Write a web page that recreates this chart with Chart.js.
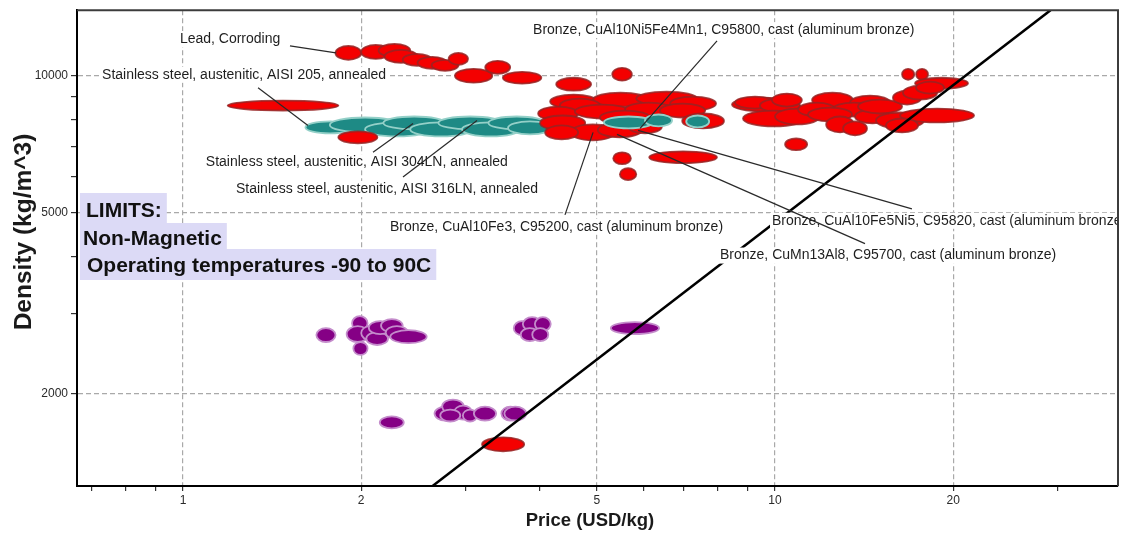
<!DOCTYPE html>
<html>
<head>
<meta charset="utf-8">
<script src="https://cdn.jsdelivr.net/npm/chart.js@4/dist/chart.umd.min.js"></script>
<style>
  html, body { margin: 0; padding: 0; background: #fff; }
  canvas { display: block; }
</style>
</head>
<body>
<canvas id="chart" width="1127" height="537"></canvas>
<script>
// Each material record: [priceLow, priceHigh, densityLow, densityHigh]  (USD/kg, kg/m^3)
const redRanges = [
  [1.81, 2.00, 10838, 11630],
  [2.00, 2.24, 10890, 11687],
  [2.14, 2.42, 11004, 11746],
  [2.19, 2.49, 10676, 11396],
  [2.35, 2.63, 10515, 11170],
  [2.49, 2.79, 10358, 11004],
  [2.63, 2.92, 10254, 10838],
  [2.81, 3.03, 10568, 11225],
  [2.88, 3.33, 9654, 10358],
  [3.24, 3.57, 10101, 10784],
  [3.47, 4.03, 9606, 10203],
  [4.27, 4.89, 9273, 9900],
  [5.31, 5.73, 9752, 10411],
  [1.19, 1.83, 8386, 8818],
  [1.83, 2.13, 7104, 7547],
  [4.17, 5.01, 8470, 9090],
  [4.93, 6.10, 8557, 9181],
  [5.83, 7.38, 8600, 9227],
  [6.65, 7.95, 8386, 8999],
  [4.33, 5.06, 8303, 8909],
  [3.98, 4.65, 7974, 8557],
  [4.59, 5.69, 8055, 8643],
  [5.58, 6.70, 8137, 8730],
  [6.39, 7.62, 8096, 8687],
  [5.06, 6.15, 7817, 8386],
  [4.01, 4.78, 7585, 8178],
  [4.51, 5.37, 7212, 7817],
  [5.02, 5.96, 7320, 7896],
  [5.65, 6.44, 7471, 8015],
  [6.97, 8.20, 7662, 8261],
  [4.09, 4.65, 7248, 7778],
  [5.33, 5.71, 6393, 6789],
  [5.47, 5.83, 5898, 6264],
  [6.13, 7.98, 6425, 6823],
  [16.39, 17.18, 9801, 10358],
  [17.31, 18.13, 9801, 10358],
  [17.24, 21.18, 9367, 9900],
  [8.46, 10.81, 8344, 8954],
  [8.56, 10.0, 8470, 8999],
  [9.43, 11.02, 8303, 8909],
  [9.88, 11.10, 8557, 9136],
  [11.55, 13.54, 8513, 9181],
  [13.39, 15.64, 8428, 9045],
  [12.49, 14.81, 8137, 8730],
  [8.83, 11.24, 7739, 8386],
  [10.0, 11.91, 7817, 8470],
  [10.94, 12.63, 8137, 8730],
  [11.37, 13.49, 7935, 8513],
  [12.20, 13.59, 7508, 8137],
  [13.03, 14.30, 7396, 7935],
  [13.65, 15.64, 7856, 8428],
  [13.81, 16.39, 8261, 8864],
  [14.81, 17.85, 7662, 8303],
  [15.82, 17.65, 8643, 9273],
  [16.45, 18.78, 8864, 9510],
  [17.31, 19.30, 9136, 9703],
  [16.26, 21.69, 7896, 8470],
  [15.40, 17.44, 7508, 8055],
  [10.40, 11.33, 6861, 7284],
  [3.20, 3.77, 1495, 1604]
];

const tealBandRanges = [
  [1.61, 1.95, 7471, 7935],
  [1.77, 2.33, 7508, 8096],
  [2.03, 2.61, 7359, 7896],
  [2.18, 2.77, 7624, 8137],
  [2.42, 3.08, 7359, 7896],
  [2.70, 3.46, 7624, 8137],
  [2.96, 3.71, 7359, 7896],
  [3.28, 4.09, 7624, 8137],
  [3.54, 4.20, 7434, 7935]
];

const tealBronzeRanges = [
  [5.14, 6.22, 7662, 8137],
  [6.03, 6.70, 7739, 8219],
  [7.08, 7.74, 7700, 8178]
];

const purpleRanges = [
  [1.68, 1.81, 2599, 2788],
  [1.93, 2.05, 2759, 2962],
  [1.89, 2.06, 2599, 2817],
  [1.94, 2.05, 2434, 2599],
  [2.00, 2.14, 2625, 2817],
  [2.04, 2.22, 2560, 2733],
  [2.06, 2.25, 2705, 2888],
  [2.16, 2.35, 2733, 2918],
  [2.20, 2.40, 2637, 2817],
  [2.24, 2.58, 2584, 2759],
  [2.15, 2.36, 1679, 1783],
  [3.62, 3.86, 2691, 2888],
  [3.75, 4.03, 2747, 2947],
  [3.93, 4.18, 2747, 2947],
  [3.72, 3.99, 2610, 2788],
  [3.89, 4.14, 2610, 2788],
  [5.28, 6.37, 2705, 2873],
  [2.66, 2.89, 1747, 1874],
  [2.74, 2.98, 1810, 1942],
  [2.87, 3.08, 1755, 1884],
  [2.97, 3.14, 1738, 1846],
  [2.72, 2.94, 1738, 1846],
  [3.10, 3.38, 1747, 1874],
  [3.45, 3.70, 1747, 1874],
  [3.49, 3.80, 1747, 1874]
];

// Selection guideline: density proportional to price
const guideLine = [{ x: 2.64, y: 1254 }, { x: 29.2, y: 13935 }];

// Axis ticks
const xTickValues = [0.7, 0.8, 0.9, 1, 2, 3, 4, 5, 6, 7, 8, 9, 10, 20, 30];
const xTickLabels = [1, 2, 5, 10, 20];
const yTickValues = [2000, 3000, 4000, 5000, 6000, 7000, 8000, 9000, 10000];
const yTickLabels = [2000, 5000, 10000];

const xTitle = 'Price (USD/kg)';
const yTitle = 'Density (kg/m^3)';

// Named records: label anchor and leader line, in (price, density)
const callouts = [
  { text: 'Lead, Corroding', at: [0.988, 12045], from: [1.516, 11630], to: [1.813, 11225] },
  { text: 'Stainless steel, austenitic, AISI 205, annealed', at: [0.730, 10050], from: [1.339, 9414], to: [1.626, 7778] },
  { text: 'Stainless steel, austenitic, AISI 304LN, annealed', at: [1.093, 6457], from: [2.094, 6789], to: [2.447, 7856] },
  { text: 'Stainless steel, austenitic, AISI 316LN, annealed', at: [1.229, 5638], from: [2.353, 5988], to: [3.138, 7974] },
  { text: 'Bronze, CuAl10Ni5Fe4Mn1, C95800, cast (aluminum bronze)', at: [3.902, 12601], from: [7.981, 11925], to: [5.916, 7662] },
  { text: 'Bronze, CuAl10Fe3, C95200, cast (aluminum bronze)', at: [2.237, 4657], from: [4.418, 4947], to: [4.928, 7508] },
  { text: 'Bronze, CuAl10Fe5Ni5, C95820, cast (aluminum bronze)', at: [9.884, 4800], from: [17.03, 5098], to: [5.870, 7585] },
  { text: 'Bronze, CuMn13Al8, C95700, cast (aluminum bronze)', at: [8.074, 4025], from: [14.19, 4276], to: [5.409, 7434] }
];

const limitsLines = ['LIMITS:', 'Non-Magnetic', 'Operating temperatures -90 to 90C'];

const FONT = "'Liberation Sans', Arial, Helvetica, sans-serif";

const ellipseGroups = [
  { ranges: tealBandRanges, fill: '#1e8a85', stroke: '#94d0c8' },
  { ranges: redRanges, fill: '#f40000', stroke: 'rgba(150,35,35,0.85)' },
  { ranges: tealBronzeRanges, fill: '#1e8a85', stroke: '#94d0c8' },
  { ranges: purpleRanges, fill: '#850085', stroke: '#c48ccb' }
];

// Range ellipses: each record spans its price and density range on the log scales
const rangeEllipses = {
  id: 'rangeEllipses',
  beforeDatasetsDraw(chart) {
    const { ctx, chartArea: a, scales: { x, y } } = chart;
    ctx.save();
    ctx.beginPath();
    ctx.rect(a.left, a.top, a.right - a.left, a.bottom - a.top);
    ctx.clip();
    for (const g of ellipseGroups) {
      for (const [pLo, pHi, dLo, dHi] of g.ranges) {
        const x1 = x.getPixelForValue(pLo), x2 = x.getPixelForValue(pHi);
        const y1 = y.getPixelForValue(dHi), y2 = y.getPixelForValue(dLo);
        ctx.beginPath();
        ctx.ellipse((x1 + x2) / 2, (y1 + y2) / 2, Math.abs(x2 - x1) / 2, Math.abs(y2 - y1) / 2, 0, 0, Math.PI * 2);
        ctx.fillStyle = g.fill;
        ctx.fill();
        ctx.lineWidth = 1.8;
        ctx.strokeStyle = g.stroke;
        ctx.stroke();
      }
    }
    ctx.restore();
  }
};

// Callout labels with white backing and leader lines, plus the limits note and frame
const overlays = {
  id: 'overlays',
  afterDatasetsDraw(chart) {
    const { ctx, chartArea: a, scales: { x, y } } = chart;
    ctx.save();
    ctx.beginPath();
    ctx.rect(a.left, a.top, a.right - a.left, a.bottom - a.top);
    ctx.clip();

    ctx.font = '14px ' + FONT;
    ctx.textBaseline = 'middle';
    ctx.textAlign = 'left';
    for (const c of callouts) {
      const tx = x.getPixelForValue(c.at[0]);
      const ty = y.getPixelForValue(c.at[1]);
      const w = ctx.measureText(c.text).width;
      ctx.fillStyle = '#ffffff';
      ctx.fillRect(tx - 2, ty - 8, w + 4, 16);
      ctx.fillStyle = '#1e1e1e';
      ctx.fillText(c.text, tx, ty);
    }
    ctx.strokeStyle = '#2a2a2a';
    ctx.lineWidth = 1.2;
    for (const c of callouts) {
      ctx.beginPath();
      ctx.moveTo(x.getPixelForValue(c.from[0]), y.getPixelForValue(c.from[1]));
      ctx.lineTo(x.getPixelForValue(c.to[0]), y.getPixelForValue(c.to[1]));
      ctx.stroke();
    }

    // limits note
    ctx.font = 'bold 21px ' + FONT;
    ctx.textBaseline = 'alphabetic';
    const rows = [
      { top: 193, bottom: 223, tx: 86, base: 217 },
      { top: 223, bottom: 249, tx: 83, base: 245 },
      { top: 249, bottom: 280, tx: 87, base: 272 }
    ];
    rows.forEach((r, i) => {
      const w = ctx.measureText(limitsLines[i]).width;
      ctx.fillStyle = '#dcdaf6';
      ctx.fillRect(a.left + 3, r.top, r.tx + w + 5 - (a.left + 3), r.bottom - r.top);
    });
    rows.forEach((r, i) => {
      ctx.fillStyle = '#111111';
      ctx.fillText(limitsLines[i], r.tx, r.base);
    });
    ctx.restore();

    // frame on top and right
    ctx.save();
    ctx.strokeStyle = '#3c3c3c';
    ctx.lineWidth = 2;
    ctx.beginPath();
    ctx.moveTo(a.left, a.top);
    ctx.lineTo(a.right, a.top);
    ctx.lineTo(a.right, a.bottom);
    ctx.stroke();
    ctx.restore();
  },
  // axis titles
  afterDraw(chart) {
    const { ctx } = chart;
    ctx.save();
    ctx.fillStyle = '#1a1a1a';
    ctx.textAlign = 'center';
    ctx.textBaseline = 'middle';
    ctx.font = 'bold 18.5px ' + FONT;
    ctx.fillText(xTitle, 590, 521);
    ctx.translate(24, 232);
    ctx.rotate(-Math.PI / 2);
    ctx.font = 'bold 24.5px ' + FONT;
    ctx.fillText(yTitle, 0, 0);
    ctx.restore();
  }
};

new Chart(document.getElementById('chart'), {
  type: 'scatter',
  data: {
    datasets: [{
      data: guideLine,
      showLine: true,
      borderColor: '#000000',
      borderWidth: 2.5,
      pointRadius: 0,
      pointHoverRadius: 0,
      fill: false
    }]
  },
  options: {
    responsive: false,
    animation: false,
    events: [],
    layout: { padding: { top: 7, right: 9, left: 0, bottom: 0 } },
    plugins: { legend: { display: false }, tooltip: { enabled: false } },
    scales: {
      x: {
        type: 'logarithmic',
        min: 0.6622,
        max: 37.96,
        afterFit(scale) { scale.height = 51; },
        afterBuildTicks(scale) { scale.ticks = xTickValues.map(v => ({ value: v })); },
        border: { display: true, color: '#000000', width: 2, dash: [5, 3] },
        grid: {
          color: c => (c.tick && xTickLabels.includes(c.tick.value)) ? '#a9a9a9' : 'rgba(0,0,0,0)',
          lineWidth: 1.2,
          tickColor: '#333333',
          tickLength: 5,
          drawTicks: true
        },
        ticks: {
          autoSkip: false,
          maxRotation: 0,
          padding: 2,
          color: '#2a2a2a',
          font: { family: FONT, size: 12 },
          callback: v => xTickLabels.includes(v) ? String(v) : ''
        },
        title: { display: false }
      },
      y: {
        type: 'logarithmic',
        min: 1254,
        max: 13935,
        afterFit(scale) { scale.width = 77; },
        afterBuildTicks(scale) { scale.ticks = yTickValues.map(v => ({ value: v })); },
        border: { display: true, color: '#000000', width: 2, dash: [5, 3] },
        grid: {
          color: c => (c.tick && yTickLabels.includes(c.tick.value)) ? '#a9a9a9' : 'rgba(0,0,0,0)',
          lineWidth: 1.2,
          tickColor: '#333333',
          tickLength: 6,
          drawTicks: true
        },
        ticks: {
          autoSkip: false,
          padding: 3,
          color: '#2a2a2a',
          font: { family: FONT, size: 12 },
          callback: v => yTickLabels.includes(v) ? String(v) : ''
        },
        title: { display: false }
      }
    }
  },
  plugins: [rangeEllipses, overlays]
});
</script>
</body>
</html>
